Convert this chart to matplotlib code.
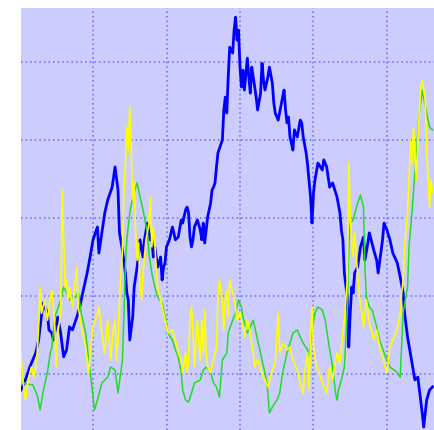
import numpy as np
import matplotlib.pyplot as plt

# three noisy traces, sample index / value
blue_pts = [(1, 15.9), (4, 18.5), (7, 21.8), (11, 25.4), (13, 28.7), (14, 32.1), (16, 38.2), (19, 35.6),
            (20, 31.3), (22, 30.5), (23, 28.7), (26, 34.6), (28, 30.5), (30, 24.4), (32, 26.2), (34, 32.1),
            (36, 31.3), (39, 34.6), (41, 37.2), (43, 40.8), (46, 45.9), (48, 50.0), (50, 54.4), (53, 57.7),
            (54, 51.0), (56, 56.2), (58, 61.3), (60, 64.6), (63, 67.9), (65, 73.1), (67, 67.2), (68, 56.2),
            (70, 51.8), (72, 45.9), (73, 40.8), (74, 39.0), (75, 28.7), (77, 34.6), (78, 42.3),
            (80, 47.4), (82, 54.4), (84, 50.0), (85, 54.4), (87, 58.7), (89, 54.4), (90, 55.1), (91, 50.0),
            (92, 52.6), (94, 47.4), (96, 50.0), (97, 44.1), (98, 47.4), (99, 48.5), (100, 52.6), (102, 54.4),
            (104, 57.7), (105, 56.2), (106, 54.4), (108, 55.1), (110, 59.5), (111, 58.7), (113, 62.1), (114, 62.8),
            (115, 61.3), (116, 55.1), (117, 52.6), (118, 54.4), (119, 57.7), (121, 59.5), (123, 56.9), (124, 54.4),
            (125, 58.7), (126, 53.6), (127, 56.9), (128, 60.3), (130, 63.8), (131, 67.2), (132, 67.9), (133, 69.0),
            (134, 73.1), (135, 76.7), (138, 80.0), (139, 87.7),
            (140, 91.0), (141, 86.9), (142, 96.2), (143, 103.8), (145, 102.3), (146, 108.2), (147, 111.5), (148, 105.6),
            (149, 108.2), (150, 98.7), (151, 93.6), (152, 97.9), (153, 92.8), (155, 101.0), (156, 96.2), (157, 92.0),
            (158, 98.7), (159, 96.2), (161, 91.0), (162, 87.7), (164, 92.0), (165, 99.7), (166, 95.4), (167, 92.8),
            (169, 96.2), (170, 98.7), (172, 94.6), (173, 89.5), (174, 86.9), (176, 85.1), (179, 91.0), (180, 92.8),
            (181, 87.7), (182, 84.4), (183, 85.9), (184, 80.8), (185, 79.2), (186, 77.4), (187, 82.6), (189, 80.8),
            (191, 85.1), (192, 84.4), (193, 80.8), (195, 76.7), (196, 73.6),
            (198, 65.4), (199, 58.7), (200, 66.4), (201, 69.7), (203, 74.1), (206, 72.3), (207, 74.9), (209, 73.1),
            (211, 67.9), (213, 69.0), (216, 65.4), (218, 61.3), (219, 56.9), (220, 54.4), (221, 45.9), (223, 39.7),
            (224, 26.9), (225, 35.6), (226, 42.3), (227, 40.8), (228, 45.9), (230, 47.4), (232, 52.6), (234, 55.1),
            (235, 49.2), (237, 53.6), (238, 56.2), (241, 51.8), (243, 49.2), (244, 45.9), (247, 54.4), (248, 58.7),
            (250, 56.9), (252, 54.4), (254, 51.0), (257, 48.5), (259, 44.9), (261, 40.8), (262, 35.6), (264, 29.5),
            (267, 22.8), (269, 18.5), (271, 19.2), (274, 10.0), (275, 6.4), (277, 13.3), (279, 15.9), (281, 16.7)]

green_x = [2, 5, 9, 12, 14, 16, 19, 21, 22, 24, 28, 30, 32, 34, 38, 40, 42, 45, 47, 49,
           51, 53, 56, 60, 62, 65, 67, 70, 71, 72, 73, 75, 77, 80, 82, 84, 87, 88, 90, 92,
           94, 97, 99, 101, 104, 106, 108, 110, 111, 113, 115, 117, 119, 123, 125, 127, 130, 132, 134, 136,
           138, 141, 142, 145, 147, 149, 151, 152, 155, 157, 159, 162, 164, 166, 168, 169, 170, 172, 175, 177,
           179, 182, 184, 186, 189, 191, 193, 196, 197, 199, 201, 203, 206, 208, 210, 213, 215, 216, 217, 219,
           221, 223, 224, 225, 227, 230, 232, 234, 235, 236, 238, 240, 243, 245, 249, 252, 255, 257, 259, 261,
           264, 265, 267, 269, 271, 272, 274, 277, 279, 281]
green_y = [17.9, 17.4, 17.2, 14.6, 10.8, 15.4, 20.5, 25.6, 26.9, 34.6, 39.0, 42.3, 40.8, 39.0, 39.7, 40.8, 35.6, 30.5, 23.6, 17.7,
           10.8, 13.3, 17.7, 19.2, 21.8, 21.0, 15.1, 23.6, 34.6, 47.4, 54.4, 61.3, 65.4, 69.0, 65.4, 62.1, 56.2, 51.0, 45.9, 42.3,
           39.7, 38.2, 34.6, 30.5, 28.7, 26.2, 24.4, 20.3, 15.9, 13.3, 12.8, 15.1, 17.7, 18.5, 21.0, 21.8, 20.5, 17.7, 16.7, 14.1,
           23.6, 25.4, 30.5, 33.8, 35.6, 39.0, 37.2, 34.6, 30.5, 32.1, 33.8, 28.7, 25.4, 21.8, 18.5, 15.1, 10.0, 11.5, 13.3, 15.1,
           20.3, 25.4, 27.9, 30.5, 31.3, 29.5, 27.9, 26.2, 24.4, 31.3, 35.6, 37.2, 36.4, 33.8, 28.7, 21.8, 15.1, 13.3, 15.9, 18.5,
           21.8, 35.6, 52.6, 58.7, 59.5, 63.8, 65.9, 62.8, 47.4, 39.7, 37.2, 36.4, 32.1, 28.7, 24.4, 21.8, 21.0, 20.3, 19.2, 35.6,
           42.3, 52.6, 61.3, 71.5, 81.8, 86.9, 92.8, 86.9, 83.3, 82.6]

yellow_x = [1, 2, 4, 6, 8, 10, 12, 13, 14, 15, 17, 19, 21, 22, 23, 24, 25, 26, 28, 29,
            30, 31, 32, 33, 34, 36, 39, 40, 42, 45, 47, 48, 50, 53, 54, 56, 58, 60, 62, 64,
            65, 66, 67, 68, 70, 71, 72, 73, 74, 75, 77, 78, 79, 80, 81, 82, 83, 84, 85, 86,
            87, 88, 89, 90, 91, 92, 93, 94, 96, 97, 99, 101, 104, 106, 108, 110, 111, 113, 114, 115,
            116, 117, 118, 119, 121, 122, 123, 124, 125, 126, 127, 128, 130, 132, 134, 135, 136, 138, 139, 140,
            141, 142, 143, 145, 147, 148, 150, 152, 153, 155, 157, 159, 160, 162, 165, 167, 169, 172, 174, 176,
            177, 179, 182, 184, 186, 189, 191, 193, 194, 196, 197, 198, 199, 200, 202, 204, 206, 209, 211, 213,
            216, 218, 219, 220, 221, 223, 224, 225, 226, 227, 228, 229, 230, 232, 233, 234, 235, 236, 238, 241,
            243, 245, 247, 250, 251, 252, 254, 257, 259, 260, 261, 262, 264, 265, 266, 267, 268, 269, 270, 271,
            272, 273, 274, 276, 277, 278, 279, 280, 281]
yellow_y = [25.4, 19.2, 13.3, 18.5, 21.8, 19.2, 25.4, 32.1, 42.3, 35.6, 39.0, 33.8, 39.7, 41.5, 37.2, 32.1, 21.8, 30.5, 35.6, 67.2,
            54.4, 42.3, 44.1, 39.0, 42.3, 37.2, 47.4, 37.2, 32.1, 26.9, 20.3, 25.4, 32.1, 35.6, 37.2, 30.5, 25.4, 33.8, 23.6, 32.1,
            33.8, 23.6, 28.7, 39.0, 51.8, 66.4, 73.1, 83.3, 77.4, 88.5, 64.6, 69.0, 56.2, 49.2, 53.6, 42.3, 39.0, 45.9, 50.0, 54.4,
            56.2, 58.7, 65.4, 52.6, 57.7, 53.6, 47.4, 42.3, 39.0, 37.2, 33.8, 30.5, 31.3, 28.7, 25.4, 23.6, 20.3, 25.4, 20.3, 23.6,
            35.6, 37.2, 30.5, 21.8, 33.8, 28.7, 23.6, 33.8, 25.4, 36.4, 25.4, 21.8, 20.3, 23.6, 26.9, 39.0, 44.1, 39.0, 31.3, 39.0,
            41.5, 34.6, 44.1, 40.8, 37.2, 33.8, 35.6, 32.1, 29.5, 33.8, 30.5, 25.4, 21.8, 23.6, 20.3, 18.5, 16.7, 21.0, 22.8, 35.6,
            25.4, 27.9, 26.2, 26.9, 23.6, 21.0, 17.7, 15.1, 20.3, 25.4, 15.9, 28.7, 37.2, 26.9, 21.8, 20.3, 17.7, 15.1, 21.8, 18.5,
            25.4, 22.8, 26.9, 30.5, 33.8, 44.1, 74.1, 61.3, 54.4, 50.0, 56.2, 51.0, 45.9, 37.2, 35.6, 32.1, 35.6, 39.0, 33.1, 28.7,
            31.3, 26.9, 24.4, 20.3, 23.6, 26.9, 28.7, 31.3, 35.6, 40.8, 44.1, 52.6, 61.3, 69.7, 80.0, 74.1, 83.3, 76.7, 69.7, 80.0,
            86.9, 93.6, 95.4, 90.3, 78.2, 69.7, 62.8, 69.7, 66.4]

grid_x = [50, 100, 150, 200, 250]
grid_y = [20, 40, 60, 80, 100]

blue_x, blue_y = np.array(blue_pts).T

fig = plt.figure(figsize=(4.34, 4.30), dpi=100)
ax = fig.add_axes([21 / 434, 0, 413 / 434, 422 / 430])
ax.set_facecolor('#ccccff')

ax.plot(blue_x, blue_y, color='#0000ff', lw=2.0, zorder=3)
ax.plot(green_x, green_y, color='#22dd22', lw=1.1, zorder=4)
ax.plot(yellow_x, yellow_y, color='#ffff00', lw=1.2, zorder=5)

ax.set_xlim(1, 282)
ax.set_ylim(5.64, 113.85)
ax.set_xticks(grid_x)
ax.set_yticks(grid_y)
ax.tick_params(length=0, labelbottom=False, labelleft=False)
ax.grid(color='#5c6cff', linestyle=(0, (1, 2)), linewidth=1.1, zorder=1)
ax.set_axisbelow(True)
for s in ax.spines.values():
    s.set_visible(False)

fig.savefig('out.png', dpi=100)
